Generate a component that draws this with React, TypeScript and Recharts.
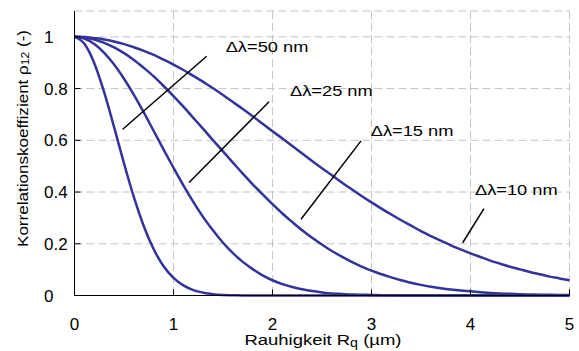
import { LineChart, Line, XAxis, YAxis, CartesianGrid, ReferenceLine, ReferenceDot } from "recharts";

// Rauhigkeit Rq in µm
const RQ = [
  0, 0.1, 0.2, 0.3, 0.4, 0.5, 0.6, 0.7, 0.8, 0.9,
  1.0, 1.1, 1.2, 1.3, 1.4, 1.5, 1.6, 1.7, 1.8, 1.9,
  2.0, 2.1, 2.2, 2.3, 2.4, 2.5, 2.6, 2.7, 2.8, 2.9,
  3.0, 3.1, 3.2, 3.3, 3.4, 3.5, 3.6, 3.7, 3.8, 3.9,
  4.0, 4.1, 4.2, 4.3, 4.4, 4.5, 4.6, 4.7, 4.8, 4.9,
  5.0,
];

// Korrelationskoeffizient rho12
const RHO_50 = [
  1, 0.973, 0.898, 0.785, 0.651, 0.511, 0.38, 0.268, 0.179, 0.113,
  0.068, 0.039, 0.021, 0.011, 0.005, 0.002, 0.001, 0, 0, 0,
  0, 0, 0, 0, 0, 0, 0, 0, 0, 0,
  0, 0, 0, 0, 0, 0, 0, 0, 0, 0,
  0, 0, 0, 0, 0, 0, 0, 0, 0, 0,
  0,
];
const RHO_25 = [
  1, 0.993, 0.972, 0.938, 0.893, 0.838, 0.776, 0.708, 0.636, 0.564,
  0.494, 0.426, 0.362, 0.303, 0.251, 0.204, 0.164, 0.13, 0.102, 0.078,
  0.059, 0.044, 0.033, 0.024, 0.017, 0.012, 0.008, 0.006, 0.004, 0.003,
  0.002, 0.001, 0.001, 0, 0, 0, 0, 0, 0, 0,
  0, 0, 0, 0, 0, 0, 0, 0, 0, 0,
  0,
];
const RHO_15 = [
  1, 0.997, 0.99, 0.977, 0.959, 0.937, 0.911, 0.88, 0.847, 0.81,
  0.771, 0.73, 0.687, 0.644, 0.6, 0.557, 0.514, 0.471, 0.43, 0.391,
  0.353, 0.317, 0.284, 0.252, 0.223, 0.197, 0.172, 0.15, 0.13, 0.112,
  0.096, 0.082, 0.07, 0.059, 0.049, 0.041, 0.034, 0.028, 0.023, 0.019,
  0.016, 0.013, 0.01, 0.008, 0.0065, 0.005, 0.004, 0.003, 0.0025, 0.002,
  0.0015,
];
const RHO_10 = [
  1, 0.999, 0.995, 0.99, 0.982, 0.972, 0.96, 0.946, 0.93, 0.912,
  0.893, 0.872, 0.849, 0.826, 0.801, 0.775, 0.748, 0.721, 0.693, 0.664,
  0.635, 0.607, 0.578, 0.549, 0.52, 0.492, 0.465, 0.437, 0.411, 0.385,
  0.36, 0.336, 0.313, 0.291, 0.27, 0.249, 0.23, 0.212, 0.194, 0.178,
  0.163, 0.149, 0.135, 0.123, 0.111, 0.101, 0.091, 0.082, 0.073, 0.066,
  0.059,
];

const X_TICKS = [0, 1, 2, 3, 4, 5];
const Y_TICKS = [0, 0.2, 0.4, 0.6, 0.8, 1];

const SERIES = [
  { key: "d50", values: RHO_50 },
  { key: "d25", values: RHO_25 },
  { key: "d15", values: RHO_15 },
  { key: "d10", values: RHO_10 },
];

// annotation text anchors (left / baseline) and leader lines, in data units
const LABELS = [
  { text: "Δλ=50 nm", x: 1.527, y: 0.941 },
  { text: "Δλ=25 nm", x: 2.177, y: 0.77 },
  { text: "Δλ=15 nm", x: 2.992, y: 0.615 },
  { text: "Δλ=10 nm", x: 4.045, y: 0.389 },
];
const LEADERS = [
  [{ x: 0.487, y: 0.643 }, { x: 1.335, y: 0.925 }],
  [{ x: 1.157, y: 0.437 }, { x: 1.965, y: 0.749 }],
  [{ x: 2.288, y: 0.295 }, { x: 2.894, y: 0.598 }],
  [{ x: 3.921, y: 0.204 }, { x: 4.136, y: 0.336 }],
];

const data = RQ.map((x, i) => {
  const row: Record<string, number> = { x };
  SERIES.forEach((s) => (row[s.key] = s.values[i]));
  return row;
});

const FONT = "'Liberation Sans', Arial, sans-serif";
const BLUE = "#333399";

const XTick = ({ x, payload }: any) => (
  <text x={x} y={329.5} textAnchor="middle" fontSize={17} fontFamily={FONT} fill="#000">
    {payload.value}
  </text>
);

const YTick = ({ y, payload }: any) => (
  <text x={44} y={y + 6} textAnchor="start" fontSize={17} fontFamily={FONT} fill="#000">
    {payload.value}
  </text>
);

const XTitle = () => (
  <text x={323} y={345} textAnchor="middle" fontSize={15.5} fontFamily={FONT} fill="#000"
    textLength={157} lengthAdjust="spacingAndGlyphs">
    Rauhigkeit R<tspan fontSize={12} dy={2}>q</tspan><tspan dy={-2}> (µm)</tspan>
  </text>
);

const YTitle = () => (
  <text transform="translate(28.3,138.5) rotate(-90)" textAnchor="middle" fontSize={15.5}
    fontFamily={FONT} fill="#000" textLength={217} lengthAdjust="spacingAndGlyphs">
    Korrelationskoeffizient  ρ<tspan fontSize={11} dy={1}>12</tspan><tspan dy={-1}>  (-)</tspan>
  </text>
);

const NoteLabel = ({ viewBox, value }: any) => (
  <text x={viewBox.x} y={viewBox.y} fontSize={15.5} fontFamily={FONT} fill="#000"
    textLength={82.7} lengthAdjust="spacingAndGlyphs">
    {value}
  </text>
);

export default function App() {
  return (
    <div style={{ width: 579, height: 351 }}>
      <style>{"body{margin:0}"}</style>
      <LineChart width={579} height={351} data={data}
        margin={{ top: 11, right: 9.5, bottom: 0, left: 0 }}>
        <CartesianGrid stroke="#c4c4c4" strokeDasharray="8 4" />
        <XAxis dataKey="x" type="number" domain={[0, 5]} ticks={X_TICKS} height={55.5}
          axisLine={{ stroke: "#000" }} tickLine={{ stroke: "#000" }} tickSize={-6}
          tick={<XTick />} label={<XTitle />} />
        <YAxis type="number" domain={[0, 1.1]} ticks={Y_TICKS} width={74.5}
          axisLine={{ stroke: "#000" }} tickLine={{ stroke: "#000" }} tickSize={-6}
          tick={<YTick />} label={<YTitle />} />
        <XAxis xAxisId="top" orientation="top" type="number" domain={[0, 5]} height={0}
          tick={false} tickLine={false} axisLine={{ stroke: "#404040" }} />
        <YAxis yAxisId="right" orientation="right" type="number" domain={[0, 1.1]} width={0}
          tick={false} tickLine={false} axisLine={{ stroke: "#606060" }} />
        {SERIES.map((s) => (
          <Line key={s.key} dataKey={s.key} type="monotone" stroke={BLUE} strokeWidth={2.5}
            dot={false} activeDot={false} isAnimationActive={false} />
        ))}
        {LEADERS.map((seg, i) => (
          <ReferenceLine key={`lead-${i}`} segment={seg} stroke="#000" strokeWidth={1.5}
            ifOverflow="visible" />
        ))}
        {LABELS.map((l, i) => (
          <ReferenceDot key={`lab-${i}`} x={l.x} y={l.y} r={0} fill="none" stroke="none"
            ifOverflow="visible" label={<NoteLabel value={l.text} />} />
        ))}
      </LineChart>
    </div>
  );
}
